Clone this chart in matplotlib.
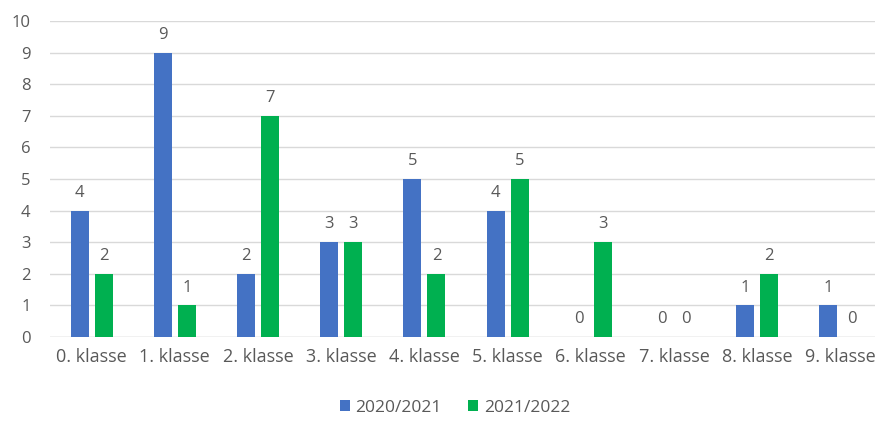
import matplotlib.pyplot as plt
import numpy as np

plt.rcParams['font.family'] = ['Open Sans', 'DejaVu Sans']

categories = ['0. klasse', '1. klasse', '2. klasse', '3. klasse', '4. klasse',
              '5. klasse', '6. klasse', '7. klasse', '8. klasse', '9. klasse']
series_names = ['2020/2021', '2021/2022']
values_2020 = [4, 9, 2, 3, 5, 4, 0, 0, 1, 1]
values_2021 = [2, 1, 7, 3, 2, 5, 3, 0, 2, 0]

blue = '#4472C4'
green = '#00B050'
text_col = '#595959'

fig = plt.figure(figsize=(8.75, 4.21), dpi=100)
ax = fig.add_axes([50 / 875, 1 - 337 / 421, 832 / 875, 316 / 421])

x = np.arange(len(categories))
w = 0.216
off = 0.144
b1 = ax.bar(x - off, values_2020, w, color=blue, label=series_names[0], zorder=3)
b2 = ax.bar(x + off, values_2021, w, color=green, label=series_names[1], zorder=3)

for bars in (b1, b2):
    for r in bars:
        ax.annotate(f'{int(r.get_height())}', (r.get_x() + r.get_width() / 2, r.get_height()),
                    xytext=(0, 7), textcoords='offset points', ha='center', va='bottom',
                    fontsize=12, color=text_col)

ax.set_xlim(-0.5, len(categories) - 0.5)
ax.set_ylim(0, 10)
ax.set_yticks(range(0, 11))
ax.set_xticks(x)
ax.set_xticklabels(categories, fontsize=13)
ax.tick_params(axis='both', length=0, colors=text_col)
ax.tick_params(axis='y', labelsize=12, pad=14)
ax.tick_params(axis='x', pad=8)
ax.grid(axis='y', color='#D9D9D9', linewidth=1, zorder=0)
for s in ax.spines.values():
    s.set_visible(False)
ax.axhline(0, color='#D9D9D9', linewidth=1, zorder=1)

fig.legend(handles=[b1, b2], loc='center', bbox_to_anchor=(455 / 875, 1 - 408 / 421),
           ncol=2, frameon=False, fontsize=12.5, handlelength=0.6, handleheight=0.6,
           handletextpad=0.3, columnspacing=1.5, labelcolor=text_col)

fig.savefig('out.png', dpi=100)
